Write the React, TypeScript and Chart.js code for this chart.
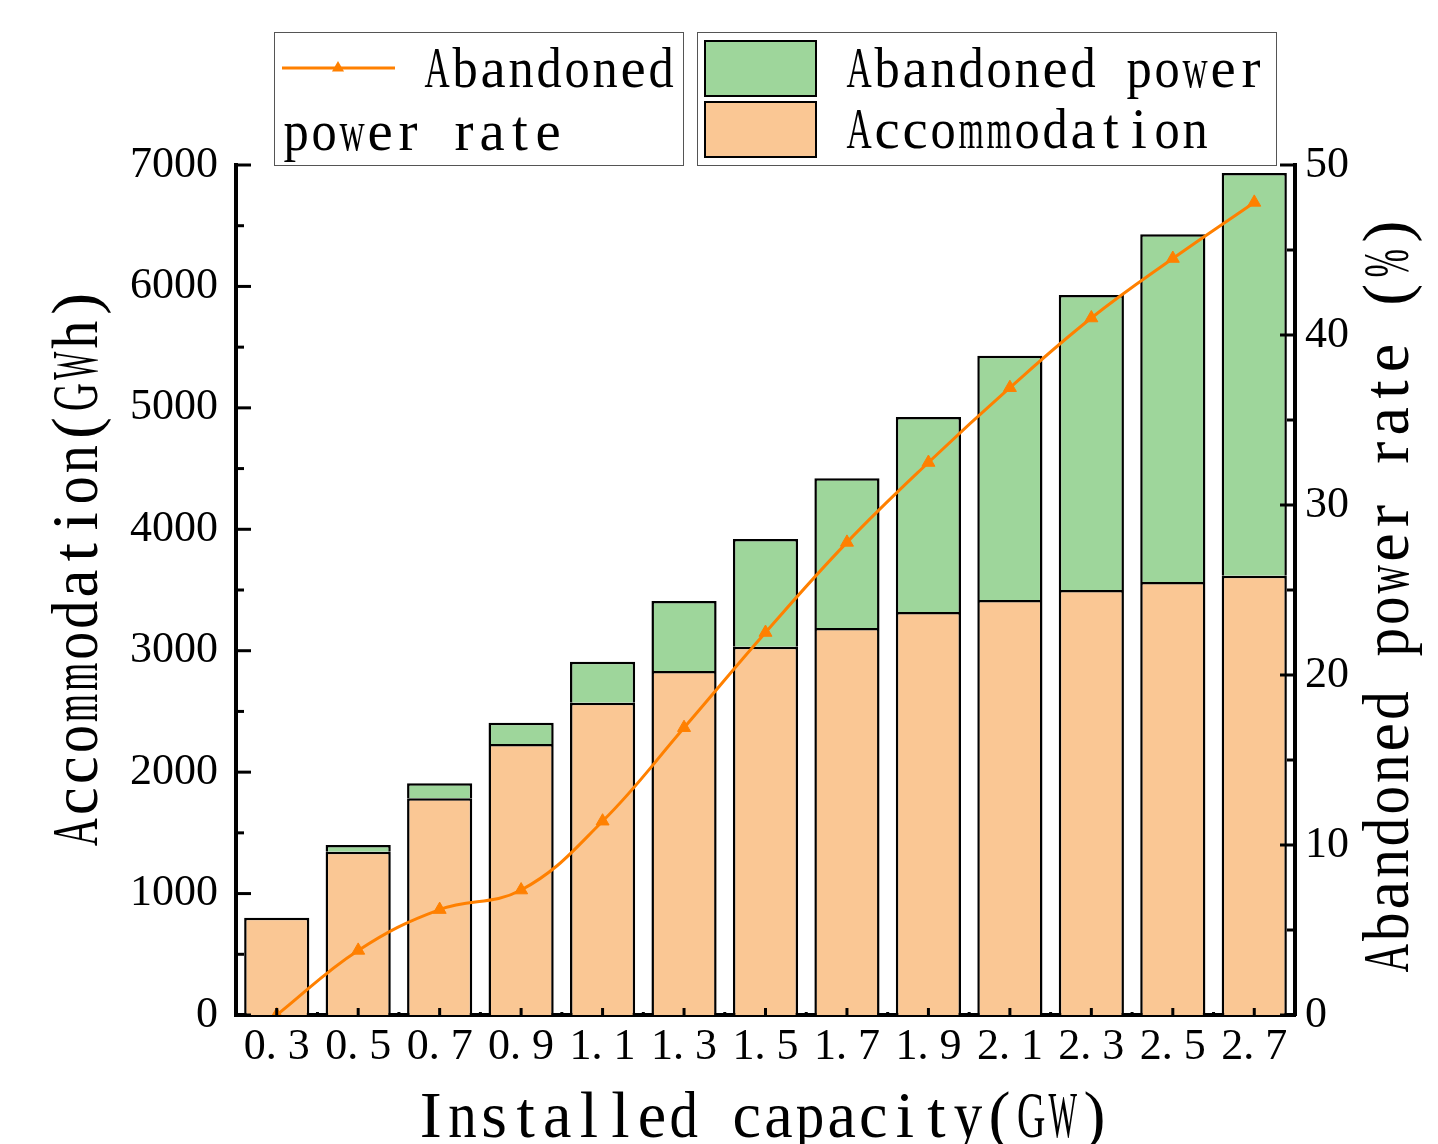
import React, { useEffect, useRef } from 'react';
import { Chart, registerables } from 'chart.js';

Chart.register(...registerables);

// ---------- data ----------
const categories = ['0.3', '0.5', '0.7', '0.9', '1.1', '1.3', '1.5', '1.7', '1.9', '2.1', '2.3', '2.5', '2.7'];
const accommodation = [800, 1345, 1785, 2232, 2572, 2833, 3033, 3187, 3319, 3418, 3500, 3566, 3618];
const abandonedPower = [0, 55, 123, 175, 337, 576, 887, 1233, 1606, 2012, 2430, 2864, 3317];
const abandonedRate = [0, 3.8, 6.2, 7.35, 11.4, 16.9, 22.5, 27.8, 32.5, 36.9, 41.0, 44.5, 47.8];

const leftMax = 7000;
const leftStep = 1000;
const rightMax = 50;
const rightStep = 10;

const xTitle = 'Installed capacity(GW)';
const yTitle = 'Accommodation(GWh)';
const y1Title = 'Abandoned power rate (%)';

const rateLabel = 'Abandoned power rate';
const abandonedLabel = 'Abandoned power';
const accommodationLabel = 'Accommodation';

// ---------- styles ----------
const GREEN = '#9ED69B';
const ORANGE_FILL = '#FAC794';
const ORANGE_LINE = '#FF8000';
const SERIF = '"Liberation Serif", "DejaVu Serif", serif';

function drawMono(ctx: CanvasRenderingContext2D, text: string, x: number, y: number, cell: number, fontPx: number) {
  ctx.save();
  ctx.font = `${fontPx}px ${SERIF}`;
  ctx.textAlign = 'center';
  ctx.textBaseline = 'alphabetic';
  ctx.fillStyle = '#000';
  for (let i = 0; i < text.length; i++) {
    const ch = text[i];
    if (ch === ' ') continue;
    const w = ctx.measureText(ch).width;
    const s = Math.min(1, (cell * 0.9) / w);
    ctx.save();
    ctx.translate(x + cell * (i + 0.5), y);
    ctx.scale(s, 1);
    ctx.fillText(ch, 0, 0);
    ctx.restore();
  }
  ctx.restore();
}

const decorPlugin = {
  id: 'decor',
  afterDatasetsDraw(chart: any) {
    const ctx: CanvasRenderingContext2D = chart.ctx;
    const area = chart.chartArea;
    const xs = chart.scales.x;
    const ys = chart.scales.y;
    const y1s = chart.scales.y1;
    ctx.save();
    ctx.strokeStyle = '#000';
    ctx.lineWidth = 3;
    // left axis inward ticks
    for (let v = 0; v <= leftMax; v += leftStep / 2) {
      const py = ys.getPixelForValue(v);
      const len = v % leftStep === 0 ? 15 : 8;
      ctx.beginPath();
      ctx.moveTo(area.left, py);
      ctx.lineTo(area.left + len, py);
      ctx.stroke();
    }
    // right axis inward ticks
    for (let v = 0; v <= rightMax; v += rightStep / 2) {
      const py = y1s.getPixelForValue(v);
      const len = v % rightStep === 0 ? 15 : 8;
      ctx.beginPath();
      ctx.moveTo(area.right, py);
      ctx.lineTo(area.right - len, py);
      ctx.stroke();
    }
    // x axis ticks
    for (let i = 0; i < categories.length; i++) {
      const px = xs.getPixelForTick(i);
      ctx.beginPath();
      ctx.moveTo(px, area.bottom);
      ctx.lineTo(px, area.bottom - 7);
      ctx.stroke();
      if (i < categories.length - 1) {
        const mx = (px + xs.getPixelForTick(i + 1)) / 2;
        ctx.beginPath();
        ctx.moveTo(mx, area.bottom);
        ctx.lineTo(mx, area.bottom - 3);
        ctx.stroke();
      }
    }
    ctx.restore();
  },
  afterDraw(chart: any) {
    const ctx: CanvasRenderingContext2D = chart.ctx;
    const ds = chart.data.datasets;
    // axis titles
    drawMono(ctx, xTitle, 415, 1137, 31.6, 66);
    ctx.save();
    ctx.translate(97, 568);
    ctx.rotate(-Math.PI / 2);
    drawMono(ctx, yTitle, -(yTitle.length * 31.1) / 2, 0, 31.1, 66);
    ctx.restore();
    ctx.save();
    ctx.translate(1408, 595);
    ctx.rotate(-Math.PI / 2);
    drawMono(ctx, y1Title, -(y1Title.length * 31.6) / 2, 0, 31.6, 66);
    ctx.restore();

    // legend 1 (line)
    ctx.save();
    ctx.fillStyle = '#fff';
    ctx.fillRect(275, 33, 409, 132);
    ctx.strokeStyle = '#555';
    ctx.lineWidth = 1;
    ctx.strokeRect(274.5, 32.5, 409, 133);
    const lineDs = ds[0];
    ctx.strokeStyle = lineDs.borderColor;
    ctx.lineWidth = 3;
    ctx.beginPath();
    ctx.moveTo(282, 68);
    ctx.lineTo(395, 68);
    ctx.stroke();
    ctx.fillStyle = lineDs.borderColor;
    const r = 7;
    ctx.beginPath();
    ctx.moveTo(338, 68 - r);
    ctx.lineTo(338 + r * 0.866, 68 + r * 0.5);
    ctx.lineTo(338 - r * 0.866, 68 + r * 0.5);
    ctx.closePath();
    ctx.fill();
    ctx.restore();
    const lbl: string = lineDs.label;
    const sp = lbl.indexOf(' ');
    drawMono(ctx, lbl.slice(0, sp), 423, 87, 28, 57);
    drawMono(ctx, lbl.slice(sp + 1), 282, 150, 28, 57);

    // legend 2 (bars)
    ctx.save();
    ctx.fillStyle = '#fff';
    ctx.fillRect(697, 33, 579, 132);
    ctx.strokeStyle = '#555';
    ctx.lineWidth = 1;
    ctx.strokeRect(697.5, 32.5, 579, 133);
    const barTop = ds[2];
    const barBottom = ds[1];
    ctx.lineWidth = 2;
    ctx.strokeStyle = '#000';
    ctx.fillStyle = barTop.backgroundColor;
    ctx.fillRect(705, 41, 111, 55);
    ctx.strokeRect(705, 41, 111, 55);
    ctx.fillStyle = barBottom.backgroundColor;
    ctx.fillRect(705, 102, 111, 55);
    ctx.strokeRect(705, 102, 111, 55);
    ctx.restore();
    drawMono(ctx, barTop.label, 845, 87, 28, 57);
    drawMono(ctx, barBottom.label, 845, 148, 28, 57);
  },
};

export default function App() {
  const ref = useRef<HTMLCanvasElement | null>(null);
  useEffect(() => {
    document.body.style.margin = '0';
    document.body.style.overflow = 'hidden';
    const canvas = ref.current;
    if (!canvas) return;
    const tickFont = { family: SERIF, size: 44 };
    const chart = new Chart(canvas, {
      type: 'bar',
      data: {
        labels: categories,
        datasets: [
          {
            type: 'line',
            label: rateLabel,
            data: abandonedRate,
            yAxisID: 'y1',
            borderColor: ORANGE_LINE,
            backgroundColor: ORANGE_LINE,
            borderWidth: 3,
            tension: 0.4,
            pointStyle: 'triangle',
            pointRadius: 7.5,
            pointBorderWidth: 1,
            pointBackgroundColor: ORANGE_LINE,
            pointBorderColor: ORANGE_LINE,
            order: 0,
          } as any,
          {
            type: 'bar',
            label: accommodationLabel,
            data: accommodation,
            yAxisID: 'y',
            backgroundColor: ORANGE_FILL,
            borderColor: '#000',
            borderWidth: 2.5,
            categoryPercentage: 1,
            barPercentage: 0.8,
            order: 1,
          },
          {
            type: 'bar',
            label: abandonedLabel,
            data: abandonedPower,
            yAxisID: 'y',
            backgroundColor: GREEN,
            borderColor: '#000',
            borderWidth: 2.5,
            categoryPercentage: 1,
            barPercentage: 0.8,
            order: 1,
          },
        ],
      },
      options: {
        responsive: false,
        animation: false,
        layout: { padding: { top: 165, left: 0, right: 0, bottom: 0 } },
        plugins: { legend: { display: false }, tooltip: { enabled: false } },
        scales: {
          x: {
            stacked: true,
            grid: { display: false, drawTicks: false },
            border: { display: true, color: '#000', width: 4 },
            ticks: {
              font: tickFont,
              color: '#000',
              padding: 6,
              maxRotation: 0,
              autoSkip: false,
              callback: (_v: any, i: number) => categories[i].replace('.', '. '),
            },
            afterFit: (s: any) => {
              s.height = 129;
            },
          },
          y: {
            stacked: true,
            min: 0,
            max: leftMax,
            grid: { display: false, drawTicks: false },
            border: { display: true, color: '#000', width: 4 },
            ticks: {
              stepSize: leftStep,
              font: tickFont,
              color: '#000',
              padding: 18,
              callback: (v: any) => String(v),
            },
            afterFit: (s: any) => {
              s.width = 236;
            },
          },
          y1: {
            position: 'right',
            min: 0,
            max: rightMax,
            grid: { display: false, drawTicks: false },
            border: { display: true, color: '#000', width: 4 },
            ticks: {
              stepSize: rightStep,
              font: tickFont,
              color: '#000',
              padding: 10,
              callback: (v: any) => String(v),
            },
            afterFit: (s: any) => {
              s.width = 143;
            },
          },
        },
      },
      plugins: [decorPlugin],
    } as any);
    return () => chart.destroy();
  }, []);
  return (
    <div style={{ width: 1438, height: 1144 }}>
      <canvas ref={ref} width={1438} height={1144} style={{ display: 'block' }} />
    </div>
  );
}
